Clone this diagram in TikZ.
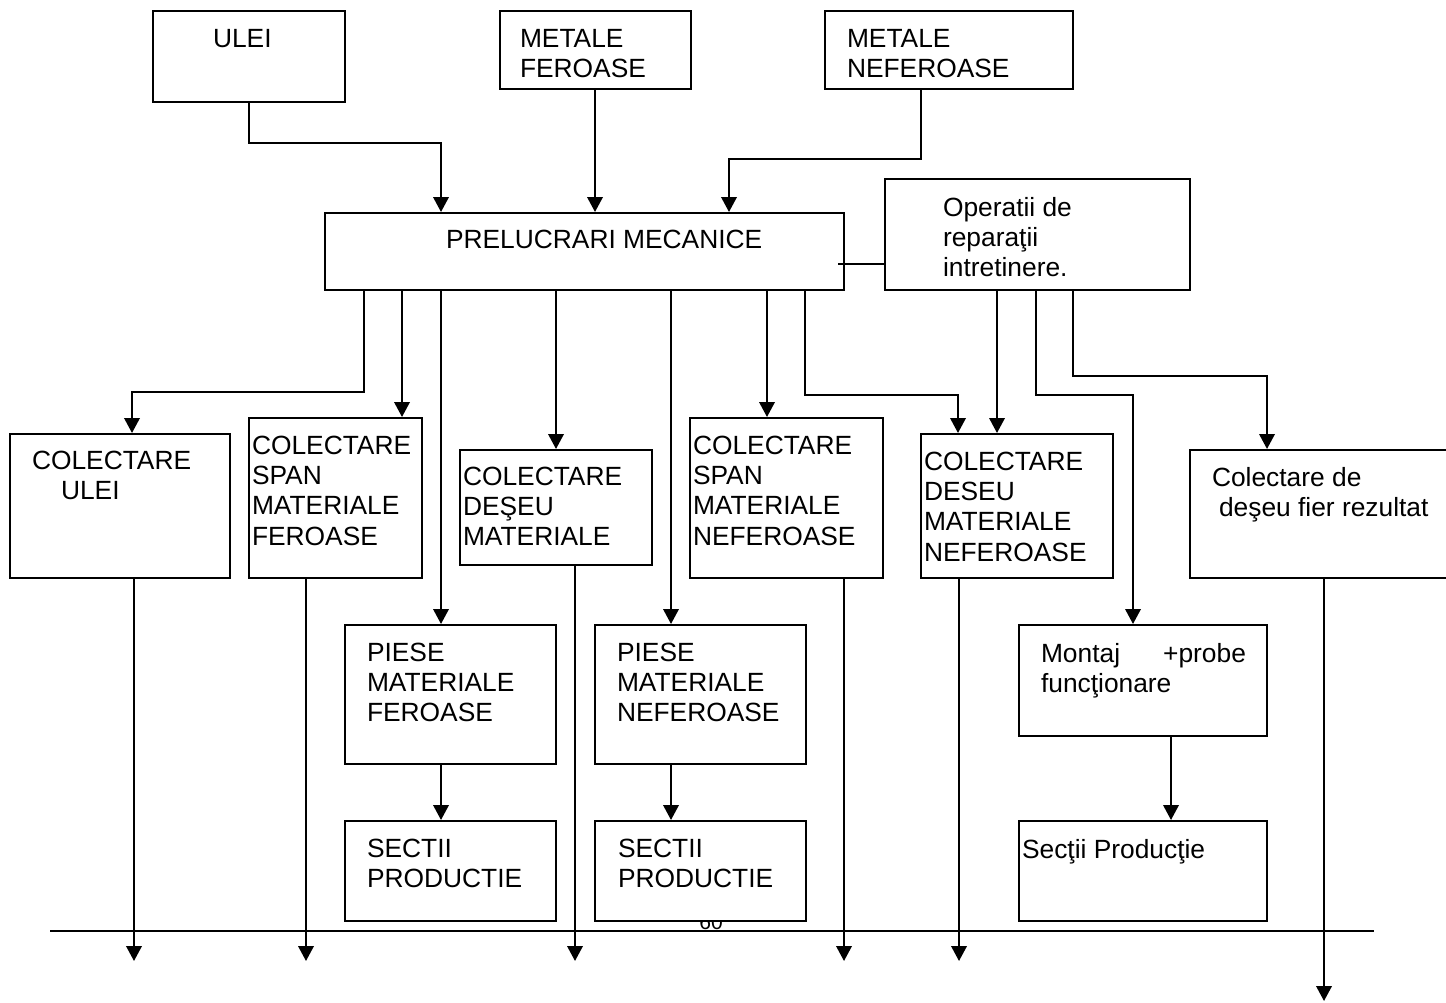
\documentclass[tikz,border=0pt]{standalone}
\usepackage{fontspec}
\setmainfont{Liberation Sans}
\usetikzlibrary{arrows.meta}
\usetikzlibrary{fit}

\begin{document}
\begin{tikzpicture}[x=0.02cm, y=-0.02cm, line width=1.15pt, >={Triangle[length=8.5pt,width=8.8pt]},
  blk/.style={draw, fill=white, inner sep=0pt},
  lbl/.style={anchor=north west, inner sep=0pt, align=left, font=\fontsize{15}{17.2}\selectfont},]
\useasboundingbox (0,0) rectangle (1446,1003);
\node[font=\fontsize{12}{14}\selectfont, anchor=base, inner sep=0pt] (pagina) at (711,929) {60};
% boxes
\node[blk, fit={(153,11) (345,102)}] (ulei) {};
\node[blk, fit={(500,11) (691,89)}] (fer) {};
\node[blk, fit={(825,11) (1073,89)}] (nefer) {};
\node[blk, fit={(325,213) (844,290)}] (prel) {};
\node[blk, fit={(885,179) (1190,290)}] (oper) {};
\node[blk, fit={(10,434) (230,578)}] (colulei) {};
\node[blk, fit={(249,418) (422,578)}] (spanf) {};
\node[blk, fit={(460,450) (652,565)}] (deseu) {};
\node[blk, fit={(690,418) (883,578)}] (spann) {};
\node[blk, fit={(921,434) (1113,578)}] (deseun) {};
\node[blk, fit={(1190,450) (1460,578)}] (fier) {};
\node[blk, fit={(345,625) (556,764)}] (piesef) {};
\node[blk, fit={(595,625) (806,764)}] (piesen) {};
\node[blk, fit={(1019,625) (1267,736)}] (montaj) {};
\node[blk, fit={(345,821) (556,921)}] (sectf) {};
\node[blk, fit={(595,821) (806,921)}] (sectn) {};
\node[blk, fit={(1019,821) (1267,921)}] (sectm) {};
% texts
\node[lbl] (ulei-t) at (212,28) {ULEI};
\node[lbl] (fer-t) at (519,28) {METALE\\FEROASE};
\node[lbl] (nefer-t) at (846,28) {METALE\\NEFEROASE};
\node[lbl] (prel-t) at (445,229) {PRELUCRARI MECANICE};
\node[lbl] (oper-t) at (942,196) {Operatii de\\reparaţii\\intretinere.};
\node[lbl] (colulei-t) at (31,450) {COLECTARE\\\hspace*{0.58cm}ULEI};
\node[lbl] (spanf-t) at (251,435) {COLECTARE\\SPAN\\MATERIALE\\FEROASE};
\node[lbl] (deseu-t) at (462,466) {COLECTARE\\DEŞEU\\MATERIALE};
\node[lbl] (spann-t) at (692,435) {COLECTARE\\SPAN\\MATERIALE\\NEFEROASE};
\node[lbl] (deseun-t) at (923,451) {COLECTARE\\DESEU\\MATERIALE\\NEFEROASE};
\node[lbl] (fier-t) at (1211,466) {Colectare de\\\hspace*{0.14cm}deşeu fier rezultat};
\node[lbl] (piesef-t) at (366,642) {PIESE\\MATERIALE\\FEROASE};
\node[lbl] (piesen-t) at (616,642) {PIESE\\MATERIALE\\NEFEROASE};
\node[lbl, text width=4.1cm] (montaj-t) at (1040,642) {Montaj\hfill+probe\\funcţionare};
\node[lbl] (sectf-t) at (366,838) {SECTII\\PRODUCTIE};
\node[lbl] (sectn-t) at (617,838) {SECTII\\PRODUCTIE};
\node[lbl] (sectm-t) at (1021,838) {Secţii Producţie};
% bends and free ends
\coordinate (k1) at (441,143);
\coordinate (k2) at (729,159);
\coordinate (k3) at (132,392);
\coordinate (k4) at (958,395);
\coordinate (k5) at (1133,395);
\coordinate (k6) at (1267,376);
\coordinate (j) at (838,264);
\coordinate (b1) at (50,931);
\coordinate (b2) at (1374,931);
\coordinate (o1) at (134,961);
\coordinate (o2) at (306,961);
\coordinate (o3) at (575,961);
\coordinate (o4) at (844,961);
\coordinate (o5) at (959,961);
\coordinate (o6) at (1324,1001);
% into prelucrari
\draw [->] (ulei) |- (k1) -- (k1 |- prel.north);
\draw [->] (fer.south -| 595,0) -- (595,0 |- prel.north);
\draw [->] (nefer.south -| 921,0) |- (k2) -- (k2 |- prel.north);
\draw (j) -- (j -| oper.west);
% out of prelucrari
\draw [->] (prel.south -| 364,0) |- (k3) -- (k3 |- colulei.north);
\draw [->] (prel.south -| 402,0) -- (402,0 |- spanf.north);
\draw [->] (prel.south -| 441,0) -- (441,0 |- piesef.north);
\draw [->] (prel.south -| deseu) -- (deseu);
\draw [->] (prel.south -| 671,0) -- (671,0 |- piesen.north);
\draw [->] (prel.south -| 767,0) -- (767,0 |- spann.north);
\draw [->] (prel.south -| 805,0) |- (k4) -- (k4 |- deseun.north);
% out of operatii
\draw [->] (oper.south -| 997,0) -- (997,0 |- deseun.north);
\draw [->] (oper.south -| 1036,0) |- (k5) -- (k5 |- montaj.north);
\draw [->] (oper.south -| 1073,0) |- (k6) -- (k6 |- fier.north);
\draw [->] (piesef.south -| 441,0) -- (441,0 |- sectf.north);
\draw [->] (piesen.south -| 671,0) -- (671,0 |- sectn.north);
\draw [->] (montaj.south -| 1171,0) -- (1171,0 |- sectm.north);
% down to the bottom
\draw (b1) -- (b2);
\draw [->] (colulei.south -| o1) -- (o1);
\draw [->] (spanf.south -| o2) -- (o2);
\draw [->] (deseu.south -| o3) -- (o3);
\draw [->] (spann.south -| o4) -- (o4);
\draw [->] (deseun.south -| o5) -- (o5);
\draw [->] (fier.south -| o6) -- (o6);
\end{tikzpicture}
\end{document}
